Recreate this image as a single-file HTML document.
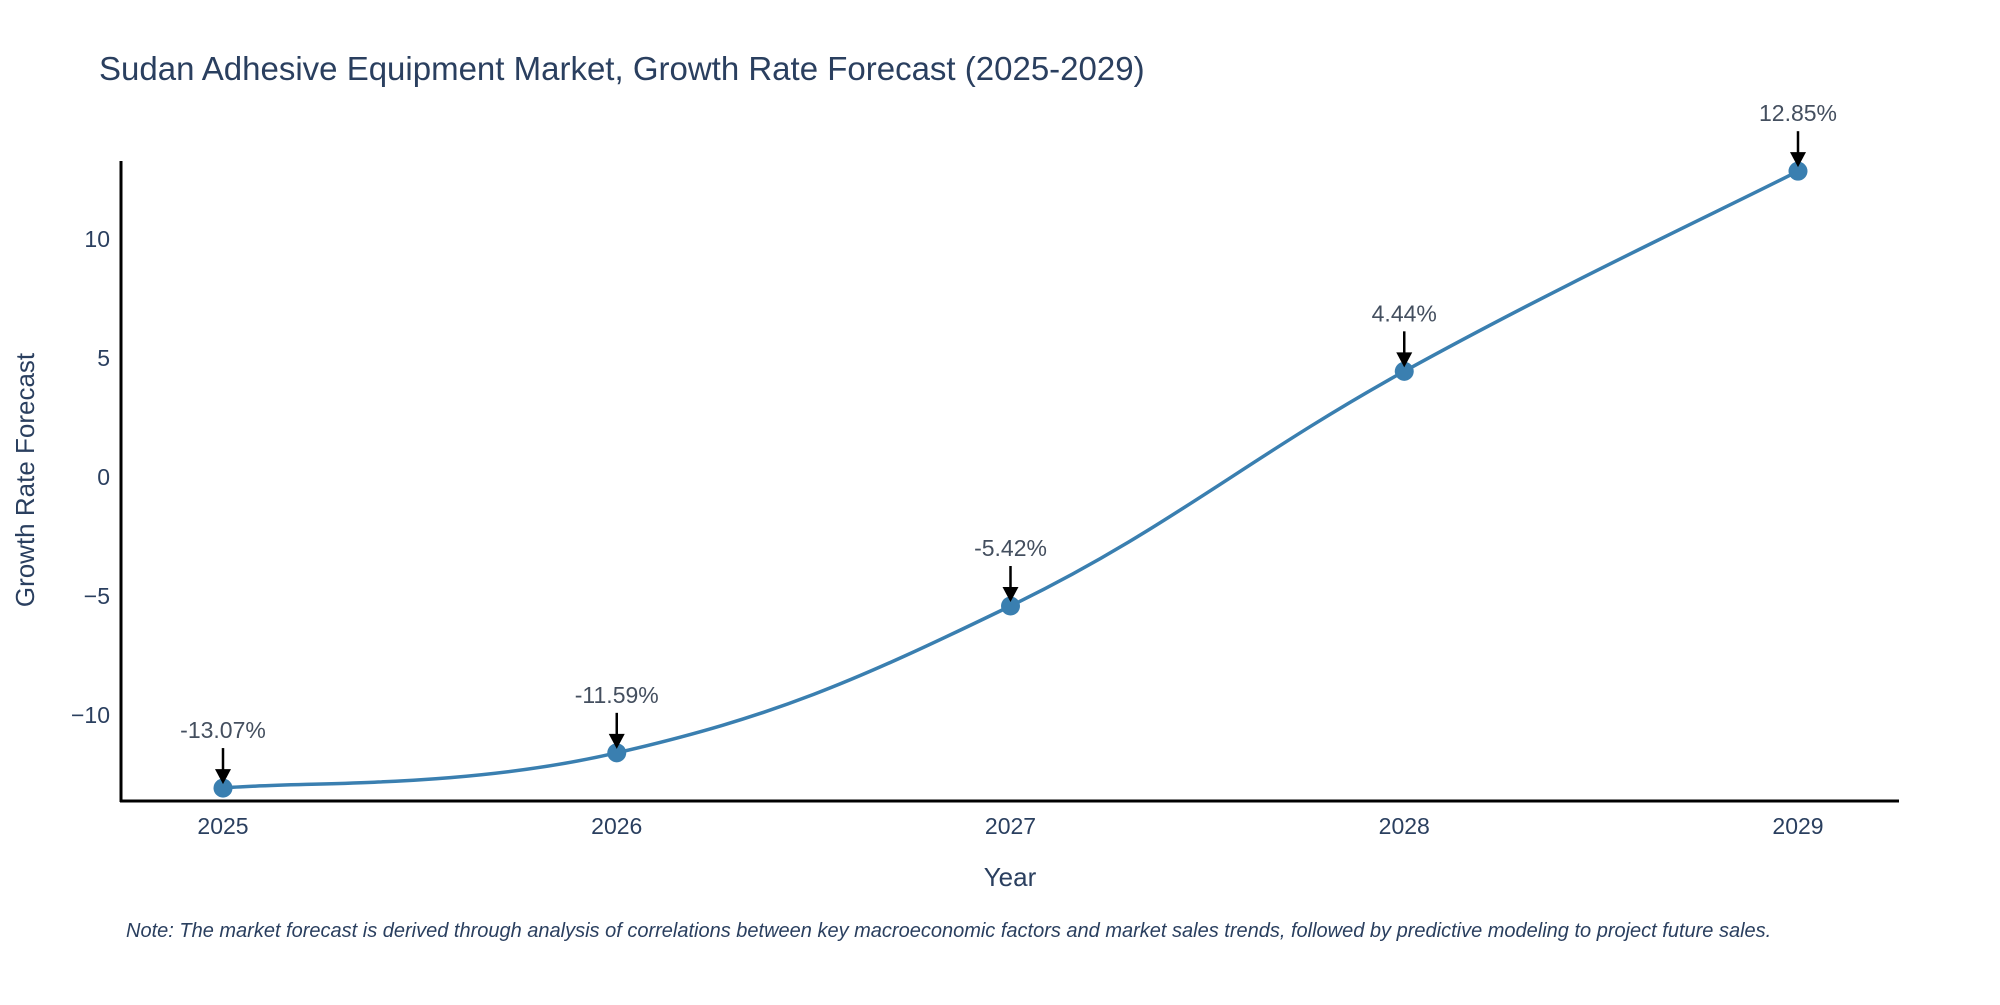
<!DOCTYPE html>
<html><head><meta charset="utf-8"><style>
html,body{margin:0;padding:0;background:#fff;}
svg text{font-family:"Liberation Sans",sans-serif;}
</style></head><body>
<svg id="chart" width="2000" height="1000" xmlns="http://www.w3.org/2000/svg">
<text x="99" y="80" font-size="33" fill="#2a3f5f">Sudan Adhesive Equipment Market, Growth Rate Forecast (2025-2029)</text>
<g id="yticks"></g>
<g id="xticks"></g>
<line x1="121" y1="161" x2="121" y2="802" stroke="#000" stroke-width="3"/>
<line x1="120" y1="801" x2="1899" y2="801" stroke="#000" stroke-width="3"/>
<path id="line" fill="none" stroke="#3a7fb0" stroke-width="3.5"/>
<g id="marks"></g>
<text x="1010" y="886" font-size="26" fill="#2a3f5f" text-anchor="middle">Year</text>
<text transform="translate(34,480) rotate(-90)" font-size="26" fill="#2a3f5f" text-anchor="middle">Growth Rate Forecast</text>
<text x="126" y="937" font-size="20" font-style="italic" fill="#2a3f5f">Note: The market forecast is derived through analysis of correlations between key macroeconomic factors and market sales trends, followed by predictive modeling to project future sales.</text>
</svg>
<script>
const years = [2025, 2026, 2027, 2028, 2029];
const values = [-13.07, -11.59, -5.42, 4.44, 12.85];
const labels = ["-13.07%", "-11.59%", "-5.42%", "4.44%", "12.85%"];
const yTickValues = [-10, -5, 0, 5, 10];
const yTickLabels = ["\u221210", "\u22125", "0", "5", "10"];

const NS = "http://www.w3.org/2000/svg";
function xs(v){ return 223 + (v - 2025) * (1798 - 223) / 4; }
function ys(v){ return 477 - v * 23.8; }
function mk(tag, attrs, parent, text){
  const e = document.createElementNS(NS, tag);
  for (const k in attrs) e.setAttribute(k, attrs[k]);
  if (text !== undefined) e.textContent = text;
  parent.appendChild(e); return e;
}
const yt = document.getElementById('yticks');
yTickValues.forEach((v,i)=>{
  const t = mk('text',{x:110,y:ys(v)+8,'font-size':23,fill:'#2a3f5f','text-anchor':'end'},yt,yTickLabels[i]);
  
  
});
const xt = document.getElementById('xticks');
years.forEach(v=>{
  const t = mk('text',{x:xs(v),y:834,'font-size':23,fill:'#2a3f5f','text-anchor':'middle'},xt,String(v));
  
  
});
const pts = years.map((y,i)=>[xs(y), ys(values[i])]);
let d = `M${pts[0][0]},${pts[0][1]}`;
const s = 0.2;
for (let i=0;i<pts.length-1;i++){
  const p0 = pts[i-1]||pts[i], p1=pts[i], p2=pts[i+1], p3=pts[i+2]||pts[i+1];
  const c1=[p1[0]+(p2[0]-p0[0])*s, p1[1]+(p2[1]-p0[1])*s];
  const c2=[p2[0]-(p3[0]-p1[0])*s, p2[1]-(p3[1]-p1[1])*s];
  d += ` C${c1[0]},${c1[1]} ${c2[0]},${c2[1]} ${p2[0]},${p2[1]}`;
}
document.getElementById('line').setAttribute('d', d);
const g = document.getElementById('marks');
pts.forEach((p,i)=>{
  const c = mk('circle',{cx:p[0],cy:p[1],r:9.5,fill:'#3a7fb0'},g);
  
  
  const l = mk('line',{x1:p[0],y1:p[1]-40,x2:p[0],y2:p[1]-14,stroke:'#000','stroke-width':2.5},g);
  
  
  const a = mk('polygon',{points:`${p[0]-8},${p[1]-19} ${p[0]+8},${p[1]-19} ${p[0]},${p[1]-4}`,fill:'#000'},g);
  
  
  const t = mk('text',{x:p[0],y:p[1]-50,'font-size':23,fill:'#444f5f','text-anchor':'middle'},g,labels[i]);
  
  
});
</script>
</body></html>
